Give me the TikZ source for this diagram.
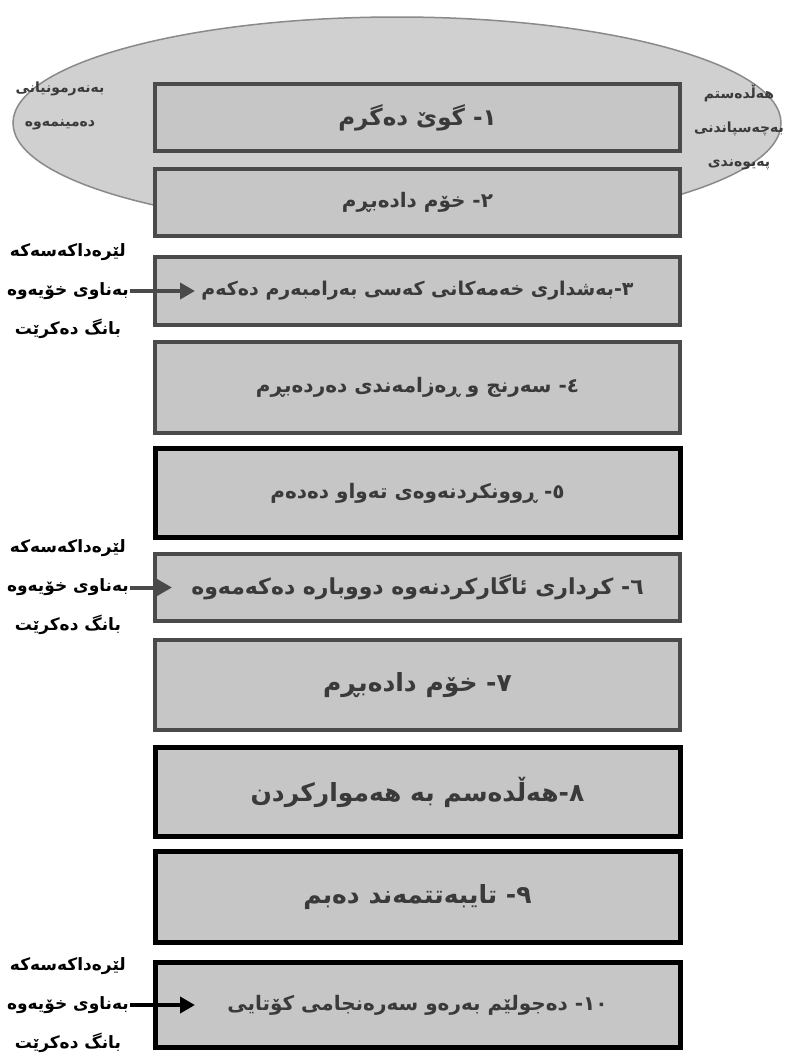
\documentclass[tikz,border=0pt]{standalone}
\usepackage{fontspec}
\usepackage{tikz}
\usetikzlibrary{arrows.meta}
\newfontfamily\kurdfont[Script=Arabic]{DejaVu Sans}
\TeXXeTstate=1
\definecolor{boxfill}{HTML}{C6C6C6}
\definecolor{ovalfill}{HTML}{D0D0D0}
\definecolor{ovaledge}{HTML}{8A8A8A}
\definecolor{edgegray}{HTML}{4A4A4A}
\definecolor{textgray}{HTML}{3A3A3A}
\newcommand{\rtl}[1]{\beginR #1\endR}

\begin{document}
\begin{tikzpicture}[x=1pt,y=-1pt,
    stepbox/.style={draw=edgegray, line width=4pt, fill=boxfill, minimum width=525pt,
        text=textgray, font=\kurdfont\bfseries\fontsize{20}{23}\selectfont},
    darkbox/.style={stepbox, draw=black, line width=5pt},
    bigtext/.style={font=\kurdfont\bfseries\fontsize{25}{28}\selectfont},
    sidelabel/.style={align=center, inner sep=1pt, font=\kurdfont\bfseries\fontsize{17}{39}\selectfont},
    ovallabel/.style={align=center, inner sep=1pt, text=textgray, font=\kurdfont\bfseries\fontsize{14}{34}\selectfont},
    callarrow/.style={draw=edgegray, line width=4pt, -{Triangle[length=15pt,width=16pt]}}
    ]
    \useasboundingbox (0,0) rectangle (785,1053);
    \fill[white] (0,0) rectangle (785,1053);

    \draw[ovaledge, line width=1.5pt, fill=ovalfill] (397,123) ellipse (384 and 106);
    \node[ovallabel] (keep) at (60,106) {\rtl{بەنەرمونیانی}\\ \rtl{دەمینمەوە}};
    \node[ovallabel] (bond) at (739,127) {\rtl{هەڵدەستم}\\ \rtl{بەچەسپاندنی}\\ \rtl{پەیوەندی}};

    \node[stepbox, minimum height=67pt, font=\kurdfont\bfseries\fontsize{23}{26}\selectfont] (s1) at (417.5,117.5) {\rtl{١- گوێ دەگرم}};
    \node[stepbox, minimum height=67pt] (s2) at (417.5,202.5) {\rtl{٢- خۆم دادەبڕم}};
    \node[stepbox, minimum height=68pt, font=\kurdfont\bfseries\fontsize{19}{22}\selectfont] (s3) at (417.5,291) {\rtl{٣-بەشداری خەمەکانی کەسی بەرامبەرم دەکەم}};
    \node[stepbox, minimum height=91pt] (s4) at (417.5,387.5) {\rtl{٤- سەرنج و ڕەزامەندی دەردەبڕم}};
    \node[darkbox, minimum height=89pt] (s5) at (417.5,493) {\rtl{٥- ڕوونکردنەوەی تەواو دەدەم}};
    \node[stepbox, minimum height=67pt, font=\kurdfont\bfseries\fontsize{22}{25}\selectfont] (s6) at (417.5,587.5) {\rtl{٦- کرداری ئاگارکردنەوە دووبارە دەکەمەوە}};
    \node[stepbox, bigtext, minimum height=90pt] (s7) at (417.5,685) {\rtl{٧- خۆم دادەبڕم}};
    \node[darkbox, bigtext, minimum height=89pt] (s8) at (417.5,792) {\rtl{٨-هەڵدەسم بە هەموارکردن}};
    \node[darkbox, bigtext, minimum height=91pt] (s9) at (417.5,897) {\rtl{٩- تایبەتتمەند دەبم}};
    \node[darkbox, minimum height=85pt] (s10) at (417.5,1005) {\rtl{١٠- دەجولێم بەرەو سەرەنجامی کۆتایی}};

    \node[sidelabel, anchor=east] (call1) at (130,291) {\rtl{لێرەداکەسەکە}\\ \rtl{بەناوی خۆیەوە}\\ \rtl{بانگ دەکرێت}};
    \node[sidelabel, anchor=east] (call2) at (130,587.5) {\rtl{لێرەداکەسەکە}\\ \rtl{بەناوی خۆیەوە}\\ \rtl{بانگ دەکرێت}};
    \node[sidelabel, anchor=east] (call3) at (130,1005) {\rtl{لێرەداکەسەکە}\\ \rtl{بەناوی خۆیەوە}\\ \rtl{بانگ دەکرێت}};
    \coordinate (tip1) at (195,291);
    \coordinate (tip2) at (172,587.5);
    \coordinate (tip3) at (195,1005);

    \draw[callarrow] (call1.east) -- (tip1);
    \draw[callarrow] (call2.east) -- (tip2);
    \draw[callarrow, draw=black] (call3.east) -- (tip3);
\end{tikzpicture}
\end{document}
